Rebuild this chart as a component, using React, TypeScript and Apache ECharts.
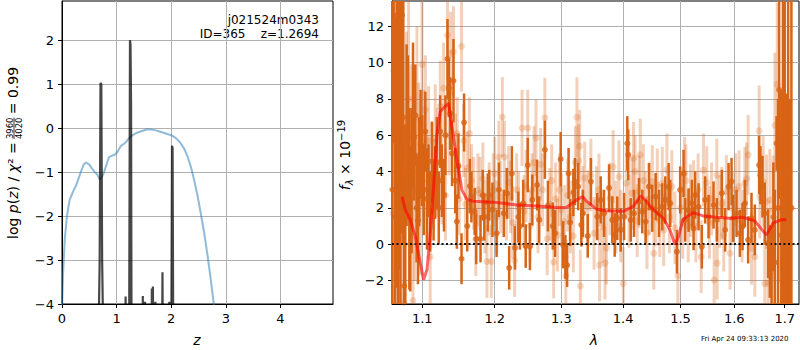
import React, { useEffect, useRef } from "react";
import * as echarts from "echarts";

const FONT = "DejaVu Sans";

// ---- left panel: log p(z) ----
const pzCurve: number[][] = [
  [0, -4.1], [0.02, -3.3], [0.05, -2.54], [0.09, -2.0], [0.14, -1.63], [0.2, -1.45], [0.26, -1.3],
  [0.31, -1.12], [0.35, -0.98], [0.4, -0.82], [0.44, -0.78], [0.5, -0.83], [0.55, -0.92], [0.6, -1.0],
  [0.65, -1.06], [0.69, -1.17], [0.73, -1.12], [0.77, -1.0], [0.81, -0.85], [0.86, -0.66], [0.91, -0.63],
  [0.97, -0.6], [1.02, -0.53], [1.08, -0.4], [1.13, -0.36], [1.17, -0.32], [1.22, -0.24], [1.28, -0.17],
  [1.36, -0.11], [1.45, -0.07], [1.55, -0.03], [1.63, -0.03], [1.72, -0.05], [1.8, -0.08], [1.9, -0.12],
  [2.0, -0.16], [2.08, -0.22], [2.16, -0.32], [2.24, -0.47], [2.3, -0.65], [2.36, -0.88], [2.42, -1.18],
  [2.48, -1.52], [2.54, -1.93], [2.6, -2.35], [2.66, -2.85], [2.72, -3.4], [2.78, -4.0], [2.82, -4.5],
];

const chi2Curve: number[][] = [
  [0, -9], [0.66, -9], [0.675, -4.3], [0.69, -3.0], [0.705, 1.03], [0.72, 1.0], [0.735, -3.0], [0.75, -4.3], [0.76, -9],
  [1.15, -9], [1.165, -3.83], [1.18, -9],
  [1.22, -9], [1.245, 2.0], [1.255, 1.9], [1.265, 0.5], [1.28, -9],
  [1.47, -9], [1.48, -3.82], [1.49, -9],
  [1.51, -9], [1.52, -3.95], [1.53, -9],
  [1.625, -9], [1.645, -3.65], [1.66, -9], [1.665, -3.6], [1.68, -9],
  [1.70, -9], [1.71, -3.95], [1.72, -9],
  [1.82, -9], [1.84, -3.28], [1.86, -9],
  [1.95, -9], [1.965, -3.95], [1.975, -9],
  [1.99, -9], [2.015, -0.4], [2.025, -0.45], [2.05, -9],
  [4.96, -9],
];

const zTicks = [0, 1, 2, 3, 4];
const logpTicks = [-4, -3, -2, -1, 0, 1, 2];

// ---- right panel: spectrum [lambda, flux, error] ----
const darkSpectrum: number[][] = [
  [1.0612, 3.0, 12], [1.0628, 9.55, 4], [1.0648, 1.5, 11], [1.0668, 12.6, 15], [1.0684, 3.0, 10],
  [1.0697, 12.6, 14], [1.0715, 5.0, 9], [1.0736, 12.6, 12], [1.0752, 7.0, 7], [1.0764, -2.3, 6],
  [1.0778, 1.6, 5], [1.0795, 6.0, 5], [1.0812, 5.9, 4.5], [1.083, 2.5, 5], [1.0843, 1.4, 4],
  [1.086, 3.5, 4], [1.0878, 7.1, 4], [1.0893, 5.9, 3.5], [1.0908, 7.1, 2.8], [1.0925, 2.0, 3],
  [1.0943, 1.3, 3.5], [1.096, 4.0, 3], [1.0978, 5.5, 3], [1.1, 4.6, 2.5], [1.102, 3.0, 2.5],
  [1.104, 6.2, 2.2], [1.1062, 2.5, 2.8], [1.1083, 3.5, 2], [1.1105, 1.8, 2.2], [1.1128, 4.55, 2.2],
  [1.115, 2.4, 2.2], [1.1172, 3.4, 2], [1.1194, 4.5, 2.5], [1.122, 2.0, 2], [1.1239, 6.2, 2],
  [1.1262, 3.5, 2], [1.129, 2.7, 2], [1.131, 6.0, 2.2], [1.1338, 10.2, 2.2], [1.1356, 8.6, 1.6],
  [1.1375, 7.2, 2], [1.14, 5.0, 1.8], [1.142, 9.0, 2.3], [1.1444, 3.5, 1.8], [1.1466, 1.25, 1.5],
  [1.1488, 4.3, 1.8], [1.1531, -0.8, 1.4], [1.1566, 6.7, 1.6], [1.161, 1.0, 1.4], [1.1647, 3.2, 1.5],
  [1.1668, 2.6, 1.4], [1.1714, 1.8, 1.3], [1.1736, 0.3, 1.4], [1.1797, 0.3, 1.3], [1.1828, 2.7, 1.4],
  [1.1851, 1.5, 1.3], [1.19, 2.3, 1.6], [1.1921, 2.7, 1.4], [1.1967, 1.9, 1.5], [1.2027, 0.6, 1.3],
  [1.206, 3.0, 1.5], [1.2131, 1.7, 1.3], [1.2178, 2.8, 1.4], [1.221, -1.3, 1.2], [1.2249, 3.9, 1.5],
  [1.2296, -0.2, 1.2], [1.2345, 1.5, 1.4], [1.2368, 1.0, 1.3], [1.2417, 2.25, 1.3], [1.2455, -0.1, 1.2],
  [1.2485, 4.36, 1.5], [1.2518, -0.13, 1.3], [1.2554, 2.44, 1.4], [1.2626, 3.26, 1.4], [1.2658, 1.34, 1.3],
  [1.2745, 5.2, 1.6], [1.2792, 2.1, 1.4], [1.2866, 1.0, 1.3], [1.2901, 0.6, 1.3], [1.2989, 4.68, 1.5],
  [1.3028, -0.03, 1.3], [1.3063, -0.7, 1.2], [1.309, -1.15, 1.2], [1.3113, 3.9, 1.4], [1.3138, 1.2, 1.3],
  [1.3188, 2.85, 1.3], [1.3213, 3.45, 1.3], [1.3264, 3.17, 1.3], [1.3315, 1.07, 1.2], [1.334, 1.7, 1.3],
  [1.3418, 0.46, 1.2], [1.3469, 3.45, 1.3], [1.3573, 1.52, 1.3], [1.3629, 2.44, 1.3], [1.3683, 1.7, 1.3],
  [1.3766, 3.1, 1.3], [1.382, 1.34, 1.3], [1.386, 0.51, 1.2], [1.3903, 1.43, 1.2], [1.396, 0.79, 1.2],
  [1.4016, 1.52, 1.3], [1.4071, 5.55, 1.5], [1.4087, 4.92, 1.4], [1.4129, 1.34, 1.2], [1.4185, 1.7, 1.3],
  [1.427, 2.35, 1.3], [1.4327, 1.8, 1.2], [1.4385, 1.25, 1.2], [1.4442, 3.17, 1.3], [1.45, 1.98, 1.3],
  [1.4559, 2.62, 1.3], [1.4617, 1.7, 1.3], [1.4675, 2.06, 1.3], [1.4728, 2.44, 1.3], [1.4788, 3.17, 1.3],
  [1.4816, 2.25, 1.3], [1.4935, -0.41, 1.2], [1.4994, 2.99, 1.3], [1.5055, 3.9, 1.3], [1.5085, 1.34, 1.2],
  [1.5146, 1.88, 1.2], [1.5206, 2.25, 1.3], [1.5237, 0.87, 1.2], [1.5266, 2.71, 1.3], [1.5329, 2.06, 1.3],
  [1.5389, -0.14, 1.2], [1.545, 2.44, 1.3], [1.5513, 1.52, 1.2], [1.5607, 2.16, 1.3], [1.5669, 1.34, 1.2],
  [1.5763, 2.8, 1.3], [1.5826, 0.79, 1.2], [1.5891, 3.17, 1.3], [1.5948, 3.45, 1.3], [1.5979, 1.43, 1.3],
  [1.6044, 1.7, 1.3], [1.6108, 0.6, 1.3], [1.616, 0.97, 1.3], [1.6205, 2.25, 1.3], [1.6269, 0.24, 1.3],
  [1.6335, 1.43, 1.4], [1.64, 0.79, 1.4], [1.6485, 4.36, 1.6], [1.6511, 3.8, 1.6], [1.6552, 3.17, 1.7],
  [1.6597, 1.7, 1.7], [1.6664, 0.03, 1.9], [1.6699, -0.95, 2.0], [1.6733, -1.2, 2.2],
  [1.677, 1.5, 3], [1.68, -1.0, 4], [1.6834, 5.55, 1.5], [1.6865, 2.0, 6], [1.6886, 8.5, 6],
  [1.693, 0.5, 8], [1.6966, 3.0, 12], [1.7, 5.0, 12], [1.7035, 0.79, 7.5], [1.707, 4.0, 12],
  [1.7105, 2.0, 6], [1.7137, 2.0, 12],
];

const lightSpectrum: number[][] = [
  [1.062, 1.7, 5], [1.065, 6.0, 8], [1.0675, 9.0, 7], [1.07, 4.0, 8], [1.0731, 1.7, 6],
  [1.076, -3.2, 6], [1.0793, 6.7, 5], [1.082, 8.0, 6], [1.085, 4.9, 5], [1.0877, -3.1, 6],
  [1.09, 3.0, 5], [1.093, 7.0, 5], [1.0951, 4.9, 4], [1.0975, 2.3, 4], [1.0996, 9.9, 3.5],
  [1.102, 5.0, 3.5], [1.104, 7.4, 3], [1.1062, 3.0, 3], [1.1083, 5.7, 3], [1.1105, -0.7, 3],
  [1.113, 3.9, 2.8], [1.115, 3.3, 2.5], [1.1172, 5.8, 3], [1.12, 4.5, 3], [1.124, 7.6, 2.5],
  [1.1261, 3.6, 2.5], [1.1285, 8.6, 2.5], [1.131, 2.7, 2.5], [1.1338, 11.5, 2.5], [1.136, 6.0, 2.2],
  [1.138, 10.5, 2.3], [1.142, 10.6, 2.5], [1.1445, 5.0, 2.2], [1.147, 6.1, 2], [1.15, 2.5, 2],
  [1.1531, 10.9, 2.5], [1.156, 5.7, 2], [1.1585, 2.2, 2], [1.161, 4.2, 2], [1.164, 6.1, 2],
  [1.167, 3.5, 2], [1.17, 2.8, 2], [1.173, 0.24, 2], [1.176, 3.0, 2], [1.179, 2.8, 2],
  [1.183, 3.6, 2], [1.186, 1.5, 2], [1.1888, -0.95, 2], [1.192, 2.5, 2], [1.195, -0.95, 2],
  [1.198, 3.0, 2], [1.2, 3.9, 2], [1.203, 1.5, 2], [1.206, 4.8, 2], [1.2085, 2.6, 2],
  [1.211, 7.0, 2.2], [1.214, 4.8, 2], [1.217, 2.2, 2], [1.22, 3.4, 2], [1.223, 2.6, 2],
  [1.226, 1.2, 2], [1.229, -0.9, 2], [1.232, 3.0, 2], [1.235, 2.0, 2], [1.24, 6.4, 2.1],
  [1.243, 1.8, 2], [1.246, 3.2, 2], [1.2485, 6.4, 2.1], [1.252, 1.0, 2], [1.255, 3.0, 2],
  [1.258, 4.5, 2], [1.261, 5.85, 2.1], [1.264, 1.5, 2], [1.268, 4.4, 2], [1.271, 3.0, 2],
  [1.2745, 6.96, 2.2], [1.278, 0.3, 2], [1.282, 2.2, 2], [1.285, 3.5, 2], [1.288, -0.98, 2],
  [1.291, 2.5, 2], [1.294, 0.5, 2], [1.297, 3.0, 2], [1.3, 1.9, 2], [1.305, 1.25, 2],
  [1.307, -1.75, 2], [1.31, 2.7, 2], [1.314, 1.5, 2], [1.3188, 0.45, 2], [1.322, 4.5, 2],
  [1.3245, 6.99, 2.2], [1.327, 4.6, 2], [1.329, 5.4, 2], [1.33, -2.3, 2], [1.334, 2.3, 2],
  [1.337, 3.64, 2], [1.342, 2.06, 2], [1.3469, 3.81, 2], [1.352, 0.6, 2], [1.356, 2.3, 2],
  [1.3601, 3.0, 2], [1.361, -1.14, 2], [1.3656, 0.97, 2], [1.37, -1.04, 2], [1.3722, -0.22, 2],
  [1.378, 2.5, 2], [1.3834, 4.27, 2], [1.388, 1.5, 2], [1.3931, 3.72, 2], [1.396, 1.0, 2],
  [1.4003, -2.16, 2], [1.4053, 3.36, 2], [1.41, 1.8, 2], [1.415, 2.8, 2], [1.4176, 4.73, 2],
  [1.4204, 4.0, 2], [1.424, 1.3, 2], [1.427, 2.9, 2], [1.4292, 4.92, 2], [1.4346, 3.5, 2],
  [1.438, 2.0, 2], [1.4408, 0.63, 2], [1.445, 2.5, 2], [1.45, 3.45, 2], [1.4526, -0.5, 2],
  [1.456, 1.9, 2], [1.4588, 3.26, 2], [1.463, 1.3, 2], [1.4675, 3.36, 2], [1.47, 0.79, 2],
  [1.4757, 4.09, 2], [1.48, 1.5, 2], [1.4845, 3.17, 2], [1.49, 0.9, 2], [1.4953, -1.75, 2],
  [1.5, 2.0, 2], [1.504, 1.2, 2], [1.5073, 3.9, 2], [1.5097, 3.5, 2], [1.514, 1.0, 2],
  [1.518, 2.4, 2], [1.5237, 2.62, 2], [1.528, 1.0, 2], [1.532, 3.0, 2], [1.5377, -0.69, 2],
  [1.5419, 4.09, 2], [1.548, 3.4, 2], [1.553, 1.2, 2], [1.557, 2.5, 2], [1.5619, -1.97, 2],
  [1.5669, 3.81, 2], [1.5675, -1.04, 2], [1.572, 1.8, 2], [1.5763, 2.25, 2], [1.58, 0.5, 2],
  [1.585, 2.9, 2], [1.592, -0.5, 2], [1.596, 2.0, 2], [1.6027, 3.0, 2], [1.6092, 3.17, 2],
  [1.615, 1.0, 2], [1.6205, 3.36, 2], [1.6238, 3.6, 2], [1.6269, 4.92, 2.2], [1.6335, -0.22, 2],
  [1.64, -0.69, 2.2], [1.6485, 6.24, 2.5], [1.6498, 2.62, 2.3], [1.6565, 3.45, 2.5], [1.6597, -2.16, 2.5],
  [1.6631, 2.34, 2.6], [1.6664, -2.16, 2.6], [1.6699, 2.44, 2.8], [1.6752, -1.7, 3], [1.6766, 1.88, 3],
  [1.68, 6.55, 4], [1.6848, 8.8, 4.5], [1.6899, 1.9, 4], [1.6966, 4.55, 9],
];

const modelLine: number[][] = [
  [1.0736, 2.62], [1.0778, 1.89], [1.0843, 1.34], [1.0908, 0.42], [1.0974, -1.05], [1.1017, -1.96],
  [1.1062, -1.41], [1.1106, 0.6], [1.115, 3.17], [1.1196, 6.1], [1.124, 7.3], [1.1285, 7.5],
  [1.1352, 7.76], [1.1399, 6.47], [1.1467, 4.64], [1.1536, 2.98], [1.1606, 2.47], [1.1698, 2.37],
  [1.2031, 2.3], [1.2323, 2.16], [1.2622, 2.1], [1.2928, 2.02], [1.3084, 2.04], [1.3242, 2.44],
  [1.3338, 2.62], [1.3402, 2.35], [1.3563, 1.93], [1.3727, 1.84], [1.4003, 1.81], [1.4172, 2.08],
  [1.4298, 2.66], [1.4372, 2.46], [1.4516, 1.9], [1.4691, 1.44], [1.4809, 0.8], [1.4898, 0.0],
  [1.4958, 0.37], [1.5048, 1.38], [1.5229, 1.74], [1.5413, 1.56], [1.5663, 1.48], [1.5915, 1.43],
  [1.617, 1.48], [1.6399, 1.28], [1.6631, 0.5], [1.6763, 1.16], [1.6933, 1.35], [1.7035, 1.35],
];

const lamTicks = [1.1, 1.2, 1.3, 1.4, 1.5, 1.6, 1.7];
const fluxTicks = [-2, 0, 2, 4, 6, 8, 10, 12];

const DARK = "rgb(216,100,22)";
const LIGHT = "rgba(216,100,22,0.3)";
const minus = (v: number) => String(Math.round(v)).replace("-", "\u2212");

function axisStyle(ticks: number[], fmt: (v: number) => string) {
  return {
    axisLine: { show: true, onZero: false, lineStyle: { color: "#000", width: 1 } },
    axisTick: { show: true, inside: false, length: 4, customValues: ticks, lineStyle: { color: "#000", width: 1 } },
    axisLabel: { customValues: ticks, formatter: fmt, color: "#000", fontSize: 13, fontFamily: FONT, margin: 8 },
    splitLine: { show: true, lineStyle: { color: "#b0b0b0", width: 1 } },
  };
}

function errorBars(rows: number[][], color: string, width: number, z: number) {
  return {
    type: "custom",
    xAxisIndex: 1,
    yAxisIndex: 1,
    z,
    silent: true,
    data: rows,
    encode: { x: 0, y: 1 },
    renderItem: (params: any, api: any) => {
      const lam = api.value(0);
      const f = api.value(1);
      const e = api.value(2);
      const top = api.coord([lam, f + e]);
      const bot = api.coord([lam, f - e]);
      const cs = params.coordSys;
      const y1 = Math.max(cs.y, top[1]);
      const y2 = Math.min(cs.y + cs.height, bot[1]);
      if (y2 <= y1) return { type: "group", children: [] };
      return {
        type: "line",
        shape: { x1: top[0], y1, x2: top[0], y2 },
        style: { stroke: color, lineWidth: width },
      };
    },
  };
}

export default function App() {
  const ref = useRef<HTMLDivElement>(null);
  useEffect(() => {
    const chart = echarts.init(ref.current!, null, { renderer: "svg" });
    const option: any = {
      animation: false,
      backgroundColor: "#fff",
      textStyle: { fontFamily: FONT },
      grid: [
        { left: 62, top: 1, width: 271, height: 303, show: true, borderColor: "#000", borderWidth: 1, backgroundColor: "transparent" },
        { left: 392, top: 1, width: 407, height: 303, show: true, borderColor: "#000", borderWidth: 1, backgroundColor: "transparent" },
      ],
      xAxis: [
        { type: "value", gridIndex: 0, min: 0, max: 4.963, ...axisStyle(zTicks, (v) => minus(v)) },
        { type: "log", gridIndex: 1, min: 1.0607, max: 1.7294, ...axisStyle(lamTicks, (v) => Number(v).toFixed(1)) },
      ],
      yAxis: [
        { type: "value", gridIndex: 0, min: -4, max: 2.893, ...axisStyle(logpTicks, (v) => minus(v)) },
        { type: "value", gridIndex: 1, min: -3.29, max: 13.39, ...axisStyle(fluxTicks, (v) => minus(v)) },
      ],
      series: [
        {
          type: "line", xAxisIndex: 0, yAxisIndex: 0, data: pzCurve, showSymbol: false, symbol: "none",
          lineStyle: { color: "rgba(31,119,180,0.5)", width: 2 }, clip: true, z: 3,
        },
        {
          type: "line", xAxisIndex: 0, yAxisIndex: 0, data: chi2Curve, showSymbol: false, symbol: "none",
          lineStyle: { color: "rgba(0,0,0,0.72)", width: 2.2 }, clip: true, z: 4,
        },
        errorBars(lightSpectrum, LIGHT, 3, 2),
        {
          type: "scatter", xAxisIndex: 1, yAxisIndex: 1, data: lightSpectrum, encode: { x: 0, y: 1 },
          symbol: "circle", symbolSize: 7, itemStyle: { color: LIGHT }, z: 3, clip: true, silent: true,
        },
        errorBars(darkSpectrum, DARK, 2.5, 4),
        {
          type: "scatter", xAxisIndex: 1, yAxisIndex: 1, data: darkSpectrum, encode: { x: 0, y: 1 },
          symbol: "circle", symbolSize: 6, itemStyle: { color: DARK }, z: 5, clip: true, silent: true,
        },
        {
          type: "line", xAxisIndex: 1, yAxisIndex: 1, data: modelLine, showSymbol: false, symbol: "none",
          lineStyle: { color: "rgba(255,0,0,0.6)", width: 3 }, z: 6, clip: true,
          markLine: {
            silent: true, symbol: "none", label: { show: false },
            lineStyle: { color: "#111", width: 2, type: [2, 2.5] },
            data: [{ yAxis: 0 }],
          },
        },
      ],
      graphic: [
        { type: "text", x: 319, y: 20, style: { text: "j021524m0343", align: "right", verticalAlign: "middle", fontSize: 12, fontFamily: FONT, fill: "#000" } },
        { type: "text", x: 319, y: 34, style: { text: "ID=365    z=1.2694", align: "right", verticalAlign: "middle", fontSize: 12, fontFamily: FONT, fill: "#000" } },
        { type: "text", x: 197, y: 340, style: { text: "z", align: "center", verticalAlign: "middle", fontSize: 14, fontStyle: "italic", fontFamily: FONT, fill: "#000" } },
        { type: "text", x: 594, y: 340, style: { text: "λ", align: "center", verticalAlign: "middle", fontSize: 14, fontStyle: "italic", fontFamily: FONT, fill: "#000" } },
        { type: "text", x: 701, y: 339, style: { text: "Fri Apr 24 09:33:13 2020", align: "left", verticalAlign: "middle", fontSize: 7, fontFamily: FONT, fill: "#000" } },
        {
          type: "group", x: 13, y: 153, rotation: Math.PI / 2,
          children: [
            {
              type: "text", x: 10.7, y: 0,
              style: {
                text: "{n|log }{i|p}{n|(}{i|z}{n|) / }{i|χ}{n|² =}",
                align: "right", verticalAlign: "middle", fill: "#000",
                rich: {
                  n: { fontSize: 14, fontFamily: FONT, fill: "#000" },
                  i: { fontSize: 14, fontFamily: FONT, fontStyle: "italic", fill: "#000" },
                },
              },
            },
            { type: "text", x: 24.7, y: -3.5, style: { text: "3960", align: "center", verticalAlign: "middle", fontSize: 8.5, fontFamily: FONT, fill: "#000" } },
            { type: "line", shape: { x1: 14, y1: 1, x2: 35.4, y2: 1 }, style: { stroke: "#000", lineWidth: 0.8 } },
            { type: "text", x: 24.7, y: 5.5, style: { text: "4020", align: "center", verticalAlign: "middle", fontSize: 8.5, fontFamily: FONT, fill: "#000" } },
            { type: "text", x: 38.7, y: 0, style: { text: "= 0.99", align: "left", verticalAlign: "middle", fontSize: 14, fontFamily: FONT, fill: "#000" } },
          ],
        },
        {
          type: "group", x: 345, y: 155, rotation: Math.PI / 2,
          children: [
            {
              type: "text", x: 0, y: 0,
              style: {
                text: "{i|f}{sub|λ}{n| × 10}{sup|−19}",
                align: "center", verticalAlign: "middle", fill: "#000",
                rich: {
                  i: { fontSize: 14, fontFamily: FONT, fontStyle: "italic", lineHeight: 18, verticalAlign: "middle", fill: "#000" },
                  n: { fontSize: 14, fontFamily: FONT, lineHeight: 18, verticalAlign: "middle", fill: "#000" },
                  sub: { fontSize: 10, fontFamily: FONT, fontStyle: "italic", lineHeight: 10, verticalAlign: "bottom", fill: "#000" },
                  sup: { fontSize: 10, fontFamily: FONT, lineHeight: 10, verticalAlign: "top", fill: "#000" },
                },
              },
            },
          ],
        },
      ],
    };
    chart.setOption(option);
    return () => chart.dispose();
  }, []);
  return <div ref={ref} style={{ position: "absolute", left: 0, top: 0, width: 800, height: 350 }} />;
}
